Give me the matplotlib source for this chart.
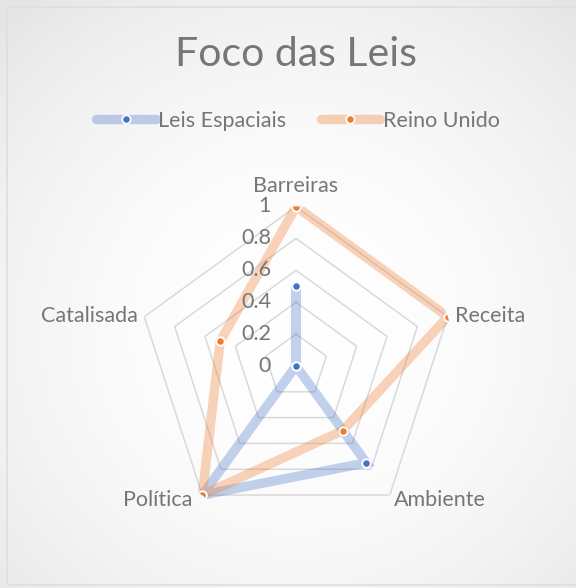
import numpy as np
import matplotlib
matplotlib.use("Agg")
import matplotlib.pyplot as plt
from matplotlib.patches import Rectangle
from matplotlib.lines import Line2D

categories = ["Barreiras", "Receita", "Ambiente", "Política", "Catalisada"]
leis_espaciais = [0.5, 0.0, 0.75, 1.0, 0.0]
reino_unido = [1.0, 1.0, 0.5, 1.0, 0.5]
tick_values = [0, 0.2, 0.4, 0.6, 0.8, 1]
tick_labels = ["0", "0.2", "0.4", "0.6", "0.8", "1"]

FONT = "Lato"
TXT = "#767676"
BLUE = "#4472C4"
ORANGE = "#ED7D31"
FS = 15.5

W, H, DPI = 576, 588, 100
fig = plt.figure(figsize=(W / DPI, H / DPI), dpi=DPI)
fig.patch.set_facecolor("white")

# subtle radial background
bg = fig.add_axes([0, 0, 1, 1], zorder=-10)
yy, xx = np.mgrid[0:H, 0:W]
d = np.sqrt(((xx - 296) / 330.0) ** 2 + ((yy - 330) / 330.0) ** 2)
shade = 1.0 - 0.06 * np.clip(d, 0, 1.3) ** 2
bg.imshow(np.dstack([shade, shade, shade]), aspect="auto", extent=[0, 1, 0, 1],
          origin="upper", vmin=0, vmax=1)
bg.set_xlim(0, 1); bg.set_ylim(0, 1)
bg.axis("off")
fig.patches.append(Rectangle((7 / W, 1 - 585 / H), (W + 5 - 7) / W, (585 - 7) / H,
                             transform=fig.transFigure, fill=False,
                             edgecolor="#dedede", linewidth=1.2))

cx, cy, R = 296, 366, 159.5
ax = fig.add_axes([(cx - R) / W, (H - cy - R) / H, 2 * R / W, 2 * R / H], polar=True)
ax.set_theta_zero_location("N")
ax.set_theta_direction(-1)
ax.set_ylim(0, 1)
ax.patch.set_alpha(0)
ax.grid(False)
ax.set_xticks([])
ax.set_yticks([])
ax.spines["polar"].set_visible(False)

n = len(categories)
angles = np.linspace(0, 2 * np.pi, n, endpoint=False)
closed = np.concatenate([angles, angles[:1]])

# pentagon grid
for v in tick_values[1:]:
    ax.plot(closed, [v] * (n + 1), color="#d9d9d9", linewidth=1.1, zorder=1)

# series
for vals, col, a in [(leis_espaciais, BLUE, 0.32), (reino_unido, ORANGE, 0.33)]:
    vv = list(vals) + [vals[0]]
    ax.plot(closed, vv, color=col, alpha=a, linewidth=6.8, solid_joinstyle="miter",
            solid_capstyle="butt", zorder=2)
for vals, col in [(leis_espaciais, BLUE), (reino_unido, ORANGE)]:
    ax.plot(angles, vals, linestyle="none", marker="o", markersize=6,
            markerfacecolor=col, markeredgecolor="white", markeredgewidth=1.3, zorder=4)

# value tick labels
for v, lab in zip(tick_values, tick_labels):
    ax.annotate(lab, xy=(0, v), xytext=(-18, 0), textcoords="offset points",
                ha="right", va="center", fontsize=FS, color=TXT, family=FONT,
                annotation_clip=False)

# category labels
offsets = {
    "Barreiras": ((0, 15), "center"),
    "Receita": ((5, 0.5), "left"),
    "Ambiente": ((3, -3.6), "left"),
    "Política": ((-7, -3.6), "right"),
    "Catalisada": ((-4.3, 0.5), "right"),
}
for ang, cat in zip(angles, categories):
    off, ha = offsets[cat]
    ax.annotate(cat, xy=(ang, 1), xytext=off, textcoords="offset points",
                ha=ha, va="center", fontsize=FS, color=TXT, family=FONT,
                annotation_clip=False)

# title
fig.text(296 / W, 1 - 54 / H, "Foco das Leis", ha="center", va="center",
         fontsize=29.5, color=TXT, family=FONT)

# legend
handles = []
for col, a, lab in [(BLUE, 0.32, "Leis Espaciais"), (ORANGE, 0.33, "Reino Unido")]:
    h1 = Line2D([], [], color=col, alpha=a, linewidth=6.8, solid_capstyle="round")
    h2 = Line2D([], [], linestyle="none", marker="o", markersize=6, markerfacecolor=col,
                markeredgecolor="white", markeredgewidth=1.3)
    handles.append(((h1, h2), lab))
leg = fig.legend([h for h, _ in handles], [l for _, l in handles],
                 loc="center", bbox_to_anchor=(298 / W, 1 - 121 / H), ncol=2,
                 frameon=False, handlelength=2.75, handletextpad=0.12,
                 columnspacing=1.6, prop={"family": FONT, "size": FS})
for t in leg.get_texts():
    t.set_color(TXT)

fig.savefig("out.png", dpi=DPI)
